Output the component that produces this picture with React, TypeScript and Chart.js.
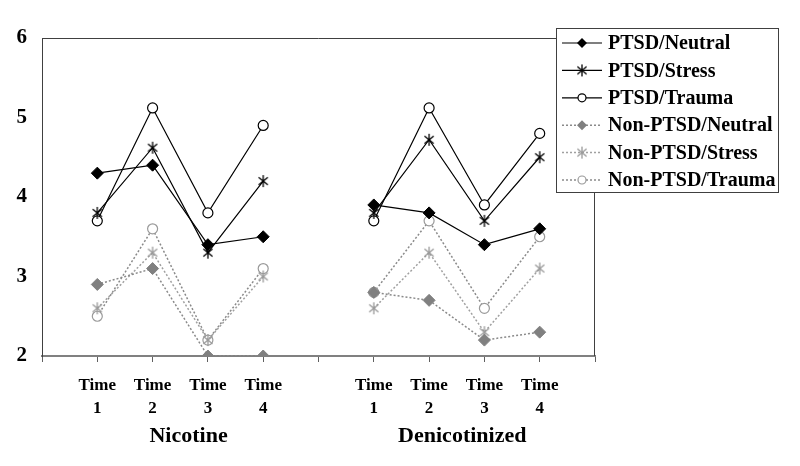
import React, { useEffect, useRef } from 'react';
import { Chart, registerables } from 'chart.js';

Chart.register(...registerables);

// ---- data ----
const xLabels: (string | string[])[] = [
  '',
  ['Time', '1'], ['Time', '2'], ['Time', '3'], ['Time', '4'],
  '',
  ['Time', '1'], ['Time', '2'], ['Time', '3'], ['Time', '4'],
  '',
];
const groupLabels = ['Nicotine', 'Denicotinized'];
const seriesNames = [
  'PTSD/Neutral',
  'PTSD/Stress',
  'PTSD/Trauma',
  'Non-PTSD/Neutral',
  'Non-PTSD/Stress',
  'Non-PTSD/Trauma',
];

const ptsdNeutralNic = [4.3, 4.4, 3.4, 3.5];
const ptsdNeutralDen = [3.9, 3.8, 3.4, 3.6];
const ptsdStressNic = [3.8, 4.62, 3.3, 4.2];
const ptsdStressDen = [3.8, 4.72, 3.7, 4.5];
const ptsdTraumaNic = [3.7, 5.12, 3.8, 4.9];
const ptsdTraumaDen = [3.7, 5.12, 3.9, 4.8];
const nonNeutralNic = [2.9, 3.1, 2.0, 2.0];
const nonNeutralDen = [2.8, 2.7, 2.2, 2.3];
const nonStressNic = [2.6, 3.3, 2.2, 3.0];
const nonStressDen = [2.6, 3.3, 2.3, 3.1];
const nonTraumaNic = [2.5, 3.6, 2.2, 3.1];
const nonTraumaDen = [2.8, 3.7, 2.6, 3.5];

const yMin = 2;
const yMax = 6;
const yStep = 1;

const FONT = "'Liberation Serif', 'Times New Roman', serif";

function joinGroups(a: number[], b: number[]): (number | null)[] {
  return [null, ...a, null, ...b, null];
}

function makeStar(color: string): HTMLCanvasElement {
  const c = document.createElement('canvas');
  const s = 14;
  c.width = s;
  c.height = s;
  const ctx = c.getContext('2d')!;
  const m = s / 2;
  const r = 6;
  ctx.strokeStyle = color;
  ctx.lineWidth = 1.3;
  ctx.beginPath();
  ctx.moveTo(m, m - r);
  ctx.lineTo(m, m + r);
  const a = (40 * Math.PI) / 180;
  const dx = Math.cos(a) * r;
  const dy = Math.sin(a) * r;
  ctx.moveTo(m - dx, m - dy);
  ctx.lineTo(m + dx, m + dy);
  ctx.moveTo(m - dx, m + dy);
  ctx.lineTo(m + dx, m - dy);
  ctx.stroke();
  return c;
}

export default function App() {
  const ref = useRef<HTMLCanvasElement | null>(null);

  useEffect(() => {
    if (!ref.current) return;
    const blackStar = makeStar('#000000');
    const grayStar = makeStar('#9a9a9a');

    const solid = { borderColor: '#000000', borderWidth: 1.2, borderDash: [] as number[] };
    const dotted = { borderColor: '#8a8a8a', borderWidth: 1.5, borderDash: [2, 2] };

    const datasets: any[] = [
      {
        label: seriesNames[0],
        data: joinGroups(ptsdNeutralNic, ptsdNeutralDen),
        ...solid,
        pointStyle: 'rectRot',
        pointRadius: 6,
        pointBackgroundColor: '#000000',
        pointBorderColor: '#000000',
        pointBorderWidth: 1,
      },
      {
        label: seriesNames[1],
        data: joinGroups(ptsdStressNic, ptsdStressDen),
        ...solid,
        pointStyle: blackStar,
        pointRadius: 6,
      },
      {
        label: seriesNames[2],
        data: joinGroups(ptsdTraumaNic, ptsdTraumaDen),
        ...solid,
        pointStyle: 'circle',
        pointRadius: 5,
        pointBackgroundColor: '#ffffff',
        pointBorderColor: '#000000',
        pointBorderWidth: 1.2,
      },
      {
        label: seriesNames[3],
        data: joinGroups(nonNeutralNic, nonNeutralDen),
        ...dotted,
        pointStyle: 'rectRot',
        pointRadius: 6,
        pointBackgroundColor: '#808080',
        pointBorderColor: '#808080',
        pointBorderWidth: 1,
      },
      {
        label: seriesNames[4],
        data: joinGroups(nonStressNic, nonStressDen),
        ...dotted,
        borderColor: '#a0a0a0',
        pointStyle: grayStar,
        pointRadius: 6,
      },
      {
        label: seriesNames[5],
        data: joinGroups(nonTraumaNic, nonTraumaDen),
        ...dotted,
        pointStyle: 'circle',
        pointRadius: 5,
        pointBackgroundColor: '#ffffff',
        pointBorderColor: '#9a9a9a',
        pointBorderWidth: 1.2,
      },
    ];

    const framePlugin = {
      id: 'frame',
      afterDatasetsDraw(chart: any) {
        const { ctx, chartArea } = chart;
        ctx.save();
        ctx.strokeStyle = '#404040';
        ctx.lineWidth = 1;
        ctx.beginPath();
        ctx.moveTo(chartArea.left, chartArea.top + 0.5);
        ctx.lineTo(chartArea.right - 0.5, chartArea.top + 0.5);
        ctx.lineTo(chartArea.right - 0.5, chartArea.bottom);
        ctx.stroke();
        ctx.restore();
      },
      afterDraw(chart: any) {
        const { ctx } = chart;
        const xs = chart.scales.x;
        ctx.save();
        ctx.fillStyle = '#000000';
        ctx.font = `bold 22px ${FONT}`;
        ctx.textAlign = 'center';
        ctx.textBaseline = 'middle';
        ctx.fillText(groupLabels[0], xs.getPixelForValue(2.65), 436);
        ctx.fillText(groupLabels[1], xs.getPixelForValue(7.6), 436);

        // legend box
        const bx = 556, by = 28, bw = 222, bh = 164;
        ctx.fillStyle = '#ffffff';
        ctx.fillRect(bx, by, bw, bh);
        ctx.strokeStyle = '#404040';
        ctx.lineWidth = 1;
        ctx.strokeRect(bx + 0.5, by + 0.5, bw, bh);
        const rowH = 27.4;
        chart.data.datasets.forEach((ds: any, i: number) => {
          const cy = by + 15 + i * rowH;
          ctx.save();
          ctx.strokeStyle = ds.borderColor;
          ctx.lineWidth = ds.borderWidth;
          ctx.setLineDash(ds.borderDash || []);
          ctx.beginPath();
          ctx.moveTo(bx + 6, cy);
          ctx.lineTo(bx + 46, cy);
          ctx.stroke();
          ctx.setLineDash([]);
          const mx = bx + 26;
          if (ds.pointStyle === 'rectRot') {
            const r = 5;
            ctx.fillStyle = ds.pointBackgroundColor;
            ctx.beginPath();
            ctx.moveTo(mx, cy - r);
            ctx.lineTo(mx + r, cy);
            ctx.lineTo(mx, cy + r);
            ctx.lineTo(mx - r, cy);
            ctx.closePath();
            ctx.fill();
          } else if (ds.pointStyle === 'circle') {
            ctx.fillStyle = '#ffffff';
            ctx.strokeStyle = ds.pointBorderColor;
            ctx.lineWidth = 1.2;
            ctx.beginPath();
            ctx.arc(mx, cy, 4, 0, Math.PI * 2);
            ctx.fill();
            ctx.stroke();
          } else if (ds.pointStyle instanceof HTMLCanvasElement) {
            const img = ds.pointStyle as HTMLCanvasElement;
            ctx.drawImage(img, mx - img.width / 2, cy - img.height / 2);
          }
          ctx.restore();
          ctx.fillStyle = '#000000';
          ctx.font = `bold 20px ${FONT}`;
          ctx.textAlign = 'left';
          ctx.textBaseline = 'middle';
          ctx.fillText(ds.label, bx + 52, cy + 1);
        });
        ctx.restore();
      },
    };

    const chart = new Chart(ref.current, {
      type: 'line',
      data: { labels: xLabels as any, datasets },
      options: {
        animation: false,
        responsive: false,
        events: [],
        spanGaps: false,
        layout: { padding: { top: 38, right: 205, left: 0, bottom: 0 } },
        plugins: {
          legend: { display: false },
          tooltip: { enabled: false },
          title: { display: false },
        },
        scales: {
          x: {
            type: 'category',
            offset: false,
            afterFit: (s: any) => { s.height = 110; },
            grid: {
              drawOnChartArea: false,
              drawTicks: true,
              tickLength: 6,
              color: '#606060',
              lineWidth: 1,
            },
            border: { display: true, color: '#808080', width: 2 },
            ticks: {
              autoSkip: false,
              maxRotation: 0,
              minRotation: 0,
              padding: 12,
              color: '#000000',
              font: { family: FONT, size: 17, weight: 'bold', lineHeight: 1.35 },
            },
          },
          y: {
            min: yMin,
            max: yMax,
            afterFit: (s: any) => { s.width = 42; },
            grid: { drawOnChartArea: false, drawTicks: false },
            border: { display: true, color: '#404040', width: 1 },
            ticks: {
              stepSize: yStep,
              padding: 15,
              color: '#000000',
              font: { family: FONT, size: 21, weight: 'bold' },
            },
          },
        },
      },
      plugins: [framePlugin],
    } as any);

    return () => chart.destroy();
  }, []);

  return (
    <div style={{ position: 'fixed', left: 0, top: 0, width: 800, height: 466, background: '#ffffff' }}>
      <canvas ref={ref} width={800} height={466} style={{ width: 800, height: 466 }} />
    </div>
  );
}
